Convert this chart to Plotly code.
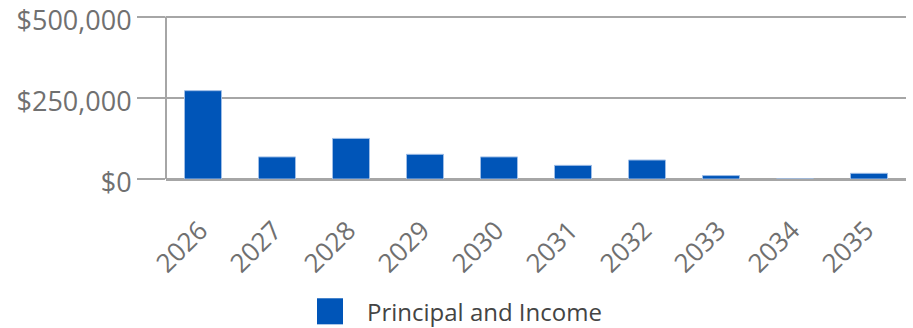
import plotly.graph_objects as go

# Yearly totals
years = ["2026", "2027", "2028", "2029", "2030", "2031", "2032", "2033", "2034", "2035"]
principal_income = [272000, 68000, 125000, 76000, 68000, 42000, 58500, 10500, 0, 17500]

y_tick_vals = [0, 250000, 500000]
y_tick_text = ["$0", "$250,000", "$500,000"]

series_name = "Principal and Income"
bar_color = "#0055B8"
grid_color = "#A6A6A6"
label_color = "#707070"
font_family = "Open Sans, sans-serif"

y_max = 505000
plot_h = 162 * y_max / 500000
top_margin = 179 - plot_h

fig = go.Figure()
fig.add_trace(go.Bar(
    x=years,
    y=principal_income,
    name=series_name,
    marker=dict(color=bar_color, line=dict(color="#9EBDE6", width=1)),
    showlegend=False,
))

fig.update_layout(
    width=913,
    height=328,
    margin=dict(l=166, r=7, t=top_margin, b=149, autoexpand=False),
    paper_bgcolor="white",
    plot_bgcolor="white",
    bargap=0.5,
    font=dict(family=font_family, size=24, color=label_color),
    xaxis=dict(
        type="category",
        tickangle=-45,
        showgrid=False,
        showline=False,
        ticks="",
        automargin=False,
        ticklabelstandoff=30,
        ticklabelshift=-3,
        tickfont=dict(size=26, color=label_color),
    ),
    yaxis=dict(
        range=[0, y_max],
        tickvals=y_tick_vals,
        ticktext=y_tick_text,
        showgrid=True,
        gridcolor=grid_color,
        gridwidth=1.5,
        zeroline=True,
        zerolinecolor=grid_color,
        zerolinewidth=2.5,
        showline=False,
        automargin=False,
        ticks="outside",
        ticklen=28,
        tickwidth=2,
        tickcolor=grid_color,
        ticklabeloverflow="allow",
        ticklabelshift=4,
        tickfont=dict(size=27, color=label_color),
    ),
)

# Vertical axis line spanning the tick range
fig.add_shape(
    type="line", xref="paper", yref="y",
    x0=0, x1=0, y0=0, y1=y_tick_vals[-1],
    line=dict(color=grid_color, width=2),
)

# Legend key drawn as a swatch plus label below the plot
fig.add_shape(
    type="rect", xref="paper", yref="paper",
    x0=(317 - 166) / 740, x1=(343 - 166) / 740,
    y0=-(324 - 179) / plot_h, y1=-(298 - 179) / plot_h,
    fillcolor=bar_color, line=dict(width=0),
)
fig.add_annotation(
    xref="paper", yref="paper",
    x=(365 - 166) / 740, y=-(311 - 179) / plot_h,
    xanchor="left", yanchor="middle",
    text=series_name, showarrow=False,
    font=dict(size=24, color="#444444", family=font_family),
)

fig.write_html("out.html")
